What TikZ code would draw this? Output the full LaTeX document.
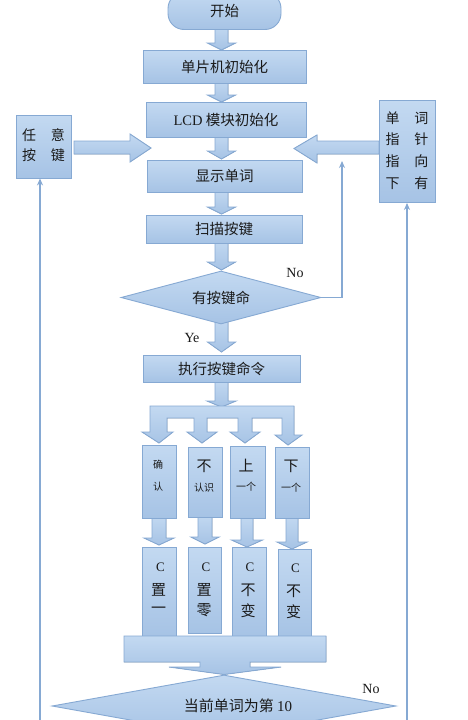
\documentclass[tikz,border=0pt]{standalone}
\usepackage{fontspec}
\setmainfont{Liberation Serif}
\newfontfamily\cjk{Noto Sans CJK SC}
\usetikzlibrary{shapes.geometric,arrows.meta}
\definecolor{boxtop}{HTML}{C3D9F1}
\definecolor{boxbot}{HTML}{A6C3E5}
\definecolor{edgec}{HTML}{86A9D3}
\definecolor{ink}{HTML}{1A1A1A}
\newcommand\zhsize[1]{\fontsize{#1}{#1}\selectfont}
\tikzset{
  blk/.style={draw=edgec, line width=0.9pt, top color=boxtop, bottom color=boxbot, line join=miter},
  box/.style={blk, rectangle, inner sep=0pt, font=\cjk\zhsize{14.5}, text=ink},
  dia/.style={blk, diamond, inner sep=0pt, font=\cjk\zhsize{14.5}, text=ink},
  lbl/.style={inner sep=0pt, text=ink},
  thin/.style={draw=edgec, line width=1.1pt, -{Stealth[length=7pt,width=6pt]}},
}
% vertical down block arrow: cx, ytop, ytip, shaft half width, head half width, head length
\newcommand\vblock[6]{%
  \filldraw[blk] ({#1-#4},#2) -- ({#1+#4},#2) -- ({#1+#4},{#3-#6}) -- ({#1+#5},{#3-#6})
    -- (#1,#3) -- ({#1-#5},{#3-#6}) -- ({#1-#4},{#3-#6}) -- cycle;}
\begin{document}
\begin{tikzpicture}[x=1pt,y=-1pt]
\useasboundingbox[fill=white] (0,0) rectangle (468,720);

% ---- block arrows (behind boxes) ----
\vblock{221.5}{25}{50}{6.5}{14}{7}
\vblock{221.5}{80}{102}{6.5}{14}{7}
\vblock{221.5}{134}{159}{6.5}{14}{8}
\vblock{221.5}{190}{214}{6.5}{14}{7}
\vblock{221.5}{240}{270}{6.5}{14}{8}
\vblock{221.5}{318}{352}{6.5}{14}{10}
\vblock{221.5}{380}{407}{6.5}{14.5}{6}

% branching arrow
\filldraw[blk] (150,406) -- (294,406) -- (294,435) -- (302,435) -- (288,445) -- (275,435)
  -- (282,435) -- (282,418) -- (252,418) -- (252,432) -- (260,432) -- (245,443)
  -- (230,432) -- (238,432) -- (238,418) -- (207,418) -- (207,432) -- (217,432)
  -- (202,443) -- (187,432) -- (194,432) -- (194,418) -- (167,418) -- (167,432)
  -- (173,432) -- (159,443) -- (142,432) -- (150,432) -- cycle;

% arrows between branch boxes and C boxes
\vblock{159}{515}{545}{7}{15}{7}
\vblock{205}{514}{544}{7}{14}{7}
\vblock{247}{515}{547}{6}{15.5}{7}
\vblock{292}{515}{549}{6}{15}{7}

% horizontal block arrows
\filldraw[blk] (74,141) -- (130,141) -- (130,134) -- (151,148) -- (130,162) -- (130,154) -- (74,154) -- cycle;
\filldraw[blk] (379,141) -- (317,141) -- (317,135) -- (294,148.5) -- (317,163) -- (317,154) -- (379,154) -- cycle;

% ---- main column ----
\node[box, rounded corners=16pt, minimum width=113pt, minimum height=37pt] (start) at (224.5,11) {开始};
\node[box, minimum width=163pt, minimum height=33pt] (init1) at (224.5,66.5) {单片机初始化};
\node[box, minimum width=160pt, minimum height=35pt] (init2) at (226,119.5) {{\rmfamily\fontsize{14.5}{14.5}\selectfont LCD} 模块初始化};
\node[box, minimum width=155pt, minimum height=32pt] (show) at (224.5,176) {显示单词};
\node[box, minimum width=156pt, minimum height=28pt] (scan) at (224,229) {扫描按键};
\node[dia, shape aspect=4, minimum width=200pt, minimum height=53pt] (has) at (221,297.5) {有按键命};
\node[box, minimum width=157pt, minimum height=27pt] (exec) at (221.5,368.5) {执行按键命令};

% side boxes
\node[box, minimum width=55pt, minimum height=63pt] (anykey) at (43.5,146.5)
  {\fontsize{14}{19.5}\selectfont\begin{tabular}{@{}c@{\hspace{15pt}}c@{}}任&意\\按&键\end{tabular}};
\node[box, minimum width=56pt, minimum height=102pt] (ptr) at (407,151.5)
  {\fontsize{14}{21.7}\selectfont\begin{tabular}{@{}c@{\hspace{15pt}}c@{}}单&词\\指&针\\指&向\\下&有\end{tabular}};

% branch boxes
\node[box, minimum width=34pt, minimum height=73pt] (bA) at (159,481.5) {};
\node[box, minimum width=34pt, minimum height=70pt] (bB) at (205,482) {};
\node[box, minimum width=35pt, minimum height=72pt] (bC) at (247.5,482) {};
\node[box, minimum width=34pt, minimum height=71pt] (bD) at (292,482.5) {};
\node[lbl, font=\cjk\zhsize{10}] (tA1) at (158,465) {确};
\node[lbl, font=\cjk\zhsize{10}] (tA2) at (158,487) {认};
\node[lbl, font=\cjk\zhsize{15}] (tB1) at (204,466) {不};
\node[lbl, font=\cjk\zhsize{10}] (tB2) at (204,488) {认识};
\node[lbl, font=\cjk\zhsize{15}] (tC1) at (246,466) {上};
\node[lbl, font=\cjk\zhsize{10}] (tC2) at (246,487) {一个};
\node[lbl, font=\cjk\zhsize{15}] (tD1) at (291,466) {下};
\node[lbl, font=\cjk\zhsize{10}] (tD2) at (291,488) {一个};

% C boxes
\node[box, minimum width=34pt, minimum height=89pt] (cA) at (159,591.5) {};
\node[box, minimum width=33pt, minimum height=86pt] (cB) at (204.5,590) {};
\node[box, minimum width=34pt, minimum height=89pt] (cC) at (249,591.5) {};
\node[box, minimum width=33pt, minimum height=87pt] (cD) at (294.5,592.5) {};
\foreach \n/\x/\dx/\a/\b in {A/159/0/置/一, B/204.5/0/置/零, C/248.5/0/不/变, D/294/1/不/变}{
  \node[lbl, font=\fontsize{13}{13}\selectfont] (c\n1) at (\x+1.5,{567+\dx}) {C};
  \node[lbl, font=\cjk\zhsize{15}] (c\n2) at (\x-0.5,{590+\dx}) {\a};
  \node[lbl, font=\cjk\zhsize{15}] (c\n3) at (\x-0.5,{610.5+\dx}) {\b};
}

% merge arrow
\filldraw[blk] (124,636) -- (326,636) -- (326,662) -- (250,662) -- (250,667) -- (281,667)
  -- (224,674.5) -- (169,667) -- (200,667) -- (200,662) -- (124,662) -- cycle;

% bottom diamond
\node[dia, shape aspect=5.5, minimum width=344pt, minimum height=62pt] (cnt) at (224,706) {};
\node[lbl, font=\cjk\zhsize{15}] (cntt) at (238,706) {当前单词为第 {\rmfamily\fontsize{15}{15}\selectfont 10}};

% labels
\node[lbl, font=\fontsize{14}{14}\selectfont] (no1) at (295,273) {No};
\node[lbl, font=\fontsize{14}{14}\selectfont] (ye) at (192,338) {Ye};
\node[lbl, font=\fontsize{14}{14}\selectfont] (no2) at (371,689) {No};

% thin connectors
\coordinate (noCorner) at (342,297.5);
\coordinate (noTop) at (342,161);
\draw[thin] (has.east) -- (noCorner) -- (noTop);
\coordinate (leftBottom) at (40,720);
\coordinate (rightBottom) at (407,720);
\draw[thin] (leftBottom) -- (anykey.south -| leftBottom);
\draw[thin] (rightBottom) -- (ptr.south -| rightBottom);
\end{tikzpicture}
\end{document}
